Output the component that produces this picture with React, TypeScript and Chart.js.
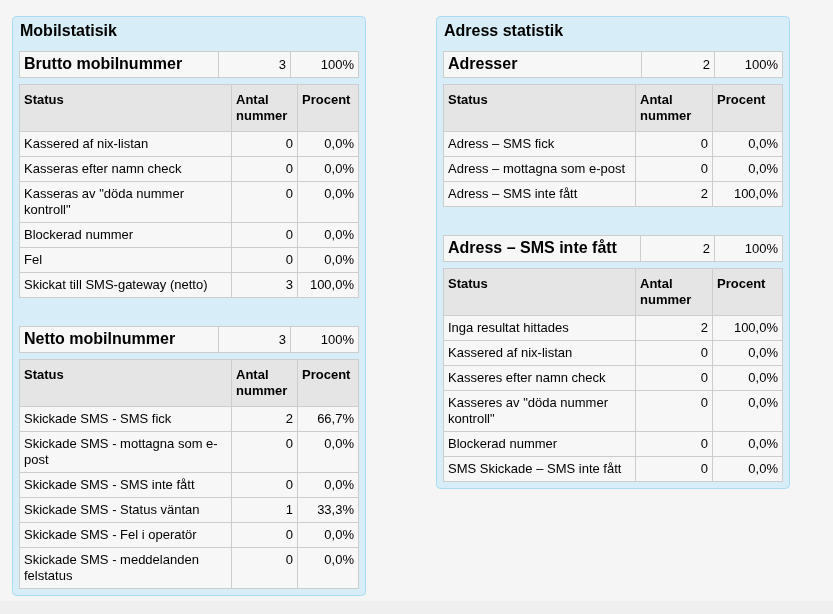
import React, { useEffect, useRef } from 'react';
import { Chart, registerables } from 'chart.js';

Chart.register(...registerables);

// ---------- data ----------
const headerLabels = ['Status', 'Antal nummer', 'Procent'];

const mobileTitle = 'Mobilstatisik';
const addressTitle = 'Adress statistik';

const bruttoLabel = 'Brutto mobilnummer';
const bruttoTotal = 3;
const bruttoTotalPct = 100;
const bruttoStatus = [
  'Kassered af nix-listan',
  'Kasseras efter namn check',
  'Kasseras av "döda nummer kontroll"',
  'Blockerad nummer',
  'Fel',
  'Skickat till SMS-gateway (netto)',
];
const bruttoCounts = [0, 0, 0, 0, 0, 3];
const bruttoPcts = [0, 0, 0, 0, 0, 100];

const nettoLabel = 'Netto mobilnummer';
const nettoTotal = 3;
const nettoTotalPct = 100;
const nettoStatus = [
  'Skickade SMS - SMS fick',
  'Skickade SMS - mottagna som e-post',
  'Skickade SMS - SMS inte fått',
  'Skickade SMS - Status väntan',
  'Skickade SMS - Fel i operatör',
  'Skickade SMS - meddelanden felstatus',
];
const nettoCounts = [2, 0, 0, 1, 0, 0];
const nettoPcts = [66.7, 0, 0, 33.3, 0, 0];

const adressLabel = 'Adresser';
const adressTotal = 2;
const adressTotalPct = 100;
const adressStatus = [
  'Adress – SMS fick',
  'Adress – mottagna som e-post',
  'Adress – SMS inte fått',
];
const adressCounts = [0, 0, 2];
const adressPcts = [0, 0, 100];

const ejLabel = 'Adress – SMS inte fått';
const ejTotal = 2;
const ejTotalPct = 100;
const ejStatus = [
  'Inga resultat hittades',
  'Kassered af nix-listan',
  'Kasseres efter namn check',
  'Kasseres av "döda nummer kontroll"',
  'Blockerad nummer',
  'SMS Skickade – SMS inte fått',
];
const ejCounts = [2, 0, 0, 0, 0, 0];
const ejPcts = [100, 0, 0, 0, 0, 0];

// ---------- layout / style ----------
const W = 833;
const H = 614;
const FONT = '"Liberation Sans", Arial, Helvetica, sans-serif';
const PAGE_BG = '#f5f5f5';
const PAGE_BAND = '#efefef';
const PANEL_BG = '#d7edf7';
const PANEL_BORDER = '#a8dcf2';
const CELL_BG = '#f7f7f7';
const HEAD_BG = '#e5e5e5';
const GRID = '#cdcdcd';
const TEXT = '#000000';

type TableSpec = {
  label: string;
  total: number;
  totalPct: number;
  status: string[];
  counts: number[];
  pcts: number[];
  sumCols: [number, number];
  cols: [number, number];
};
type PanelSpec = { title: string; left: number; right: number; top: number; tables: TableSpec[] };

const panels: PanelSpec[] = [
  {
    title: mobileTitle,
    left: 12,
    right: 365,
    top: 16,
    tables: [
      { label: bruttoLabel, total: bruttoTotal, totalPct: bruttoTotalPct, status: bruttoStatus, counts: bruttoCounts, pcts: bruttoPcts, sumCols: [218, 290], cols: [231, 297] },
      { label: nettoLabel, total: nettoTotal, totalPct: nettoTotalPct, status: nettoStatus, counts: nettoCounts, pcts: nettoPcts, sumCols: [218, 290], cols: [231, 297] },
    ],
  },
  {
    title: addressTitle,
    left: 436,
    right: 789,
    top: 16,
    tables: [
      { label: adressLabel, total: adressTotal, totalPct: adressTotalPct, status: adressStatus, counts: adressCounts, pcts: adressPcts, sumCols: [641, 714], cols: [635, 712] },
      { label: ejLabel, total: ejTotal, totalPct: ejTotalPct, status: ejStatus, counts: ejCounts, pcts: ejPcts, sumCols: [640, 714], cols: [635, 712] },
    ],
  },
];

const fmtPct = (v: number) => v.toFixed(1).replace('.', ',') + '%';

function wrap(ctx: CanvasRenderingContext2D, text: string, maxW: number): string[] {
  const segs = text.split(/(?<=\s)|(?<=[^\s-]-)(?=[^\s-])/);
  const lines: string[] = [];
  let cur = '';
  for (const s of segs) {
    const trial = cur + s;
    if (cur && ctx.measureText(trial.trimEnd()).width > maxW) {
      lines.push(cur.trimEnd());
      cur = s;
    } else cur = trial;
  }
  if (cur) lines.push(cur.trimEnd());
  return lines;
}

const tablePlugin = {
  id: 'statTables',
  beforeDraw(chart: any) {
    const ctx: CanvasRenderingContext2D = chart.ctx;
    const xs = chart.scales.x;
    const ys = chart.scales.y;
    const X = (v: number) => Math.round(xs.getPixelForValue(v));
    const Y = (v: number) => Math.round(ys.getPixelForValue(v));

    ctx.save();
    ctx.fillStyle = PAGE_BG;
    ctx.fillRect(X(0), Y(0), X(W) - X(0), Y(H) - Y(0));
    ctx.fillStyle = PAGE_BAND;
    ctx.fillRect(X(0), Y(601), X(W) - X(0), Y(H) - Y(601));

    const hLine = (x1: number, x2: number, y: number) => {
      ctx.fillStyle = GRID;
      ctx.fillRect(X(x1), Y(y), X(x2 + 1) - X(x1), 1);
    };
    const vLine = (x: number, y1: number, y2: number) => {
      ctx.fillStyle = GRID;
      ctx.fillRect(X(x), Y(y1), 1, Y(y2 + 1) - Y(y1));
    };

    for (const p of panels) {
      const tLeft = p.left + 7;
      const tRight = p.right - 7;
      type Row = { top: number; bottom: number; lines: string[]; count: number; pct: number };
      const layouts: { t: TableSpec; sumTop: number; headTop: number; headBottom: number; headLines: string[][]; rows: Row[] }[] = [];
      let y = p.top + 35;
      for (const t of p.tables) {
        const sumTop = y;
        const headTop = sumTop + 26 + 7;
        const colEdges = [tLeft, t.cols[0], t.cols[1], tRight];
        ctx.font = `bold 13px ${FONT}`;
        const headLines = headerLabels.map((h, i) => wrap(ctx, h, colEdges[i + 1] - colEdges[i] - 9));
        const hl = Math.max(...headLines.map((l) => l.length));
        const headBottom = headTop + 15 + 16 * hl;
        ctx.font = `13px ${FONT}`;
        const rows: Row[] = [];
        let ry = headBottom;
        t.status.forEach((s, i) => {
          const lines = wrap(ctx, s, colEdges[1] - colEdges[0] - 9);
          const bottom = ry + 9 + 16 * lines.length;
          rows.push({ top: ry, bottom, lines, count: t.counts[i], pct: t.pcts[i] });
          ry = bottom;
        });
        layouts.push({ t, sumTop, headTop, headBottom, headLines, rows });
        y = ry + 29;
      }
      const lastL = layouts[layouts.length - 1];
      const contentBottom = lastL.rows[lastL.rows.length - 1].bottom;
      const pBottom = contentBottom + 7;

      // panel
      ctx.beginPath();
      ctx.roundRect(X(p.left) + 0.5, Y(p.top) + 0.5, X(p.right) - X(p.left), Y(pBottom) - Y(p.top), 4);
      ctx.fillStyle = PANEL_BG;
      ctx.fill();
      ctx.strokeStyle = PANEL_BORDER;
      ctx.lineWidth = 1;
      ctx.stroke();

      ctx.fillStyle = TEXT;
      ctx.font = `bold 16px ${FONT}`;
      ctx.textAlign = 'left';
      ctx.textBaseline = 'alphabetic';
      ctx.fillText(p.title, X(p.left + 8), Y(p.top + 20));

      for (const L of layouts) {
        const t = L.t;
        // summary table
        ctx.fillStyle = CELL_BG;
        ctx.fillRect(X(tLeft), Y(L.sumTop), X(tRight + 1) - X(tLeft), Y(L.sumTop + 27) - Y(L.sumTop));
        hLine(tLeft, tRight, L.sumTop);
        hLine(tLeft, tRight, L.sumTop + 26);
        [tLeft, t.sumCols[0], t.sumCols[1], tRight].forEach((cx) => vLine(cx, L.sumTop, L.sumTop + 26));
        ctx.fillStyle = TEXT;
        ctx.font = `bold 16px ${FONT}`;
        ctx.textAlign = 'left';
        ctx.fillText(t.label, X(tLeft + 5), Y(L.sumTop + 18));
        ctx.font = `13px ${FONT}`;
        ctx.textAlign = 'right';
        ctx.fillText(String(t.total), X(t.sumCols[1] - 4), Y(L.sumTop + 18));
        ctx.fillText(t.totalPct + '%', X(tRight - 4), Y(L.sumTop + 18));

        // main table
        const edges = [tLeft, t.cols[0], t.cols[1], tRight];
        const last = L.rows[L.rows.length - 1].bottom;
        ctx.fillStyle = HEAD_BG;
        ctx.fillRect(X(tLeft), Y(L.headTop), X(tRight + 1) - X(tLeft), Y(L.headBottom) - Y(L.headTop));
        ctx.fillStyle = CELL_BG;
        ctx.fillRect(X(tLeft), Y(L.headBottom), X(tRight + 1) - X(tLeft), Y(last + 1) - Y(L.headBottom));
        hLine(tLeft, tRight, L.headTop);
        hLine(tLeft, tRight, L.headBottom);
        L.rows.forEach((r) => hLine(tLeft, tRight, r.bottom));
        edges.forEach((cx) => vLine(cx, L.headTop, last));

        ctx.fillStyle = TEXT;
        ctx.font = `bold 13px ${FONT}`;
        ctx.textAlign = 'left';
        L.headLines.forEach((lines, i) => {
          lines.forEach((ln, k) => ctx.fillText(ln, X(edges[i] + 5), Y(L.headTop + 20 + 16 * k)));
        });

        ctx.font = `13px ${FONT}`;
        L.rows.forEach((r) => {
          ctx.textAlign = 'left';
          r.lines.forEach((ln, k) => ctx.fillText(ln, X(tLeft + 5), Y(r.top + 17 + 16 * k)));
          ctx.textAlign = 'right';
          ctx.fillText(String(r.count), X(edges[2] - 4), Y(r.top + 17));
          ctx.fillText(fmtPct(r.pct), X(tRight - 4), Y(r.top + 17));
        });
      }
    }
    ctx.restore();
  },
};

export default function App() {
  const ref = useRef<HTMLCanvasElement | null>(null);
  useEffect(() => {
    if (!ref.current) return;
    const chart = new Chart(ref.current, {
      type: 'scatter',
      data: { datasets: [] },
      options: {
        animation: false,
        responsive: false,
        devicePixelRatio: 1,
        layout: { padding: 0 },
        plugins: { legend: { display: false }, tooltip: { enabled: false }, title: { display: false } },
        scales: {
          x: { type: 'linear', display: false, offset: false, min: 0, max: W, bounds: 'data' },
          y: { type: 'linear', display: false, offset: false, min: 0, max: H, reverse: true },
        },
      },
      plugins: [tablePlugin],
    } as any);
    return () => chart.destroy();
  }, []);
  return (
    <div style={{ position: 'absolute', left: 0, top: 0, width: W, height: H }}>
      <canvas ref={ref} width={W} height={H} style={{ display: 'block' }} />
    </div>
  );
}
